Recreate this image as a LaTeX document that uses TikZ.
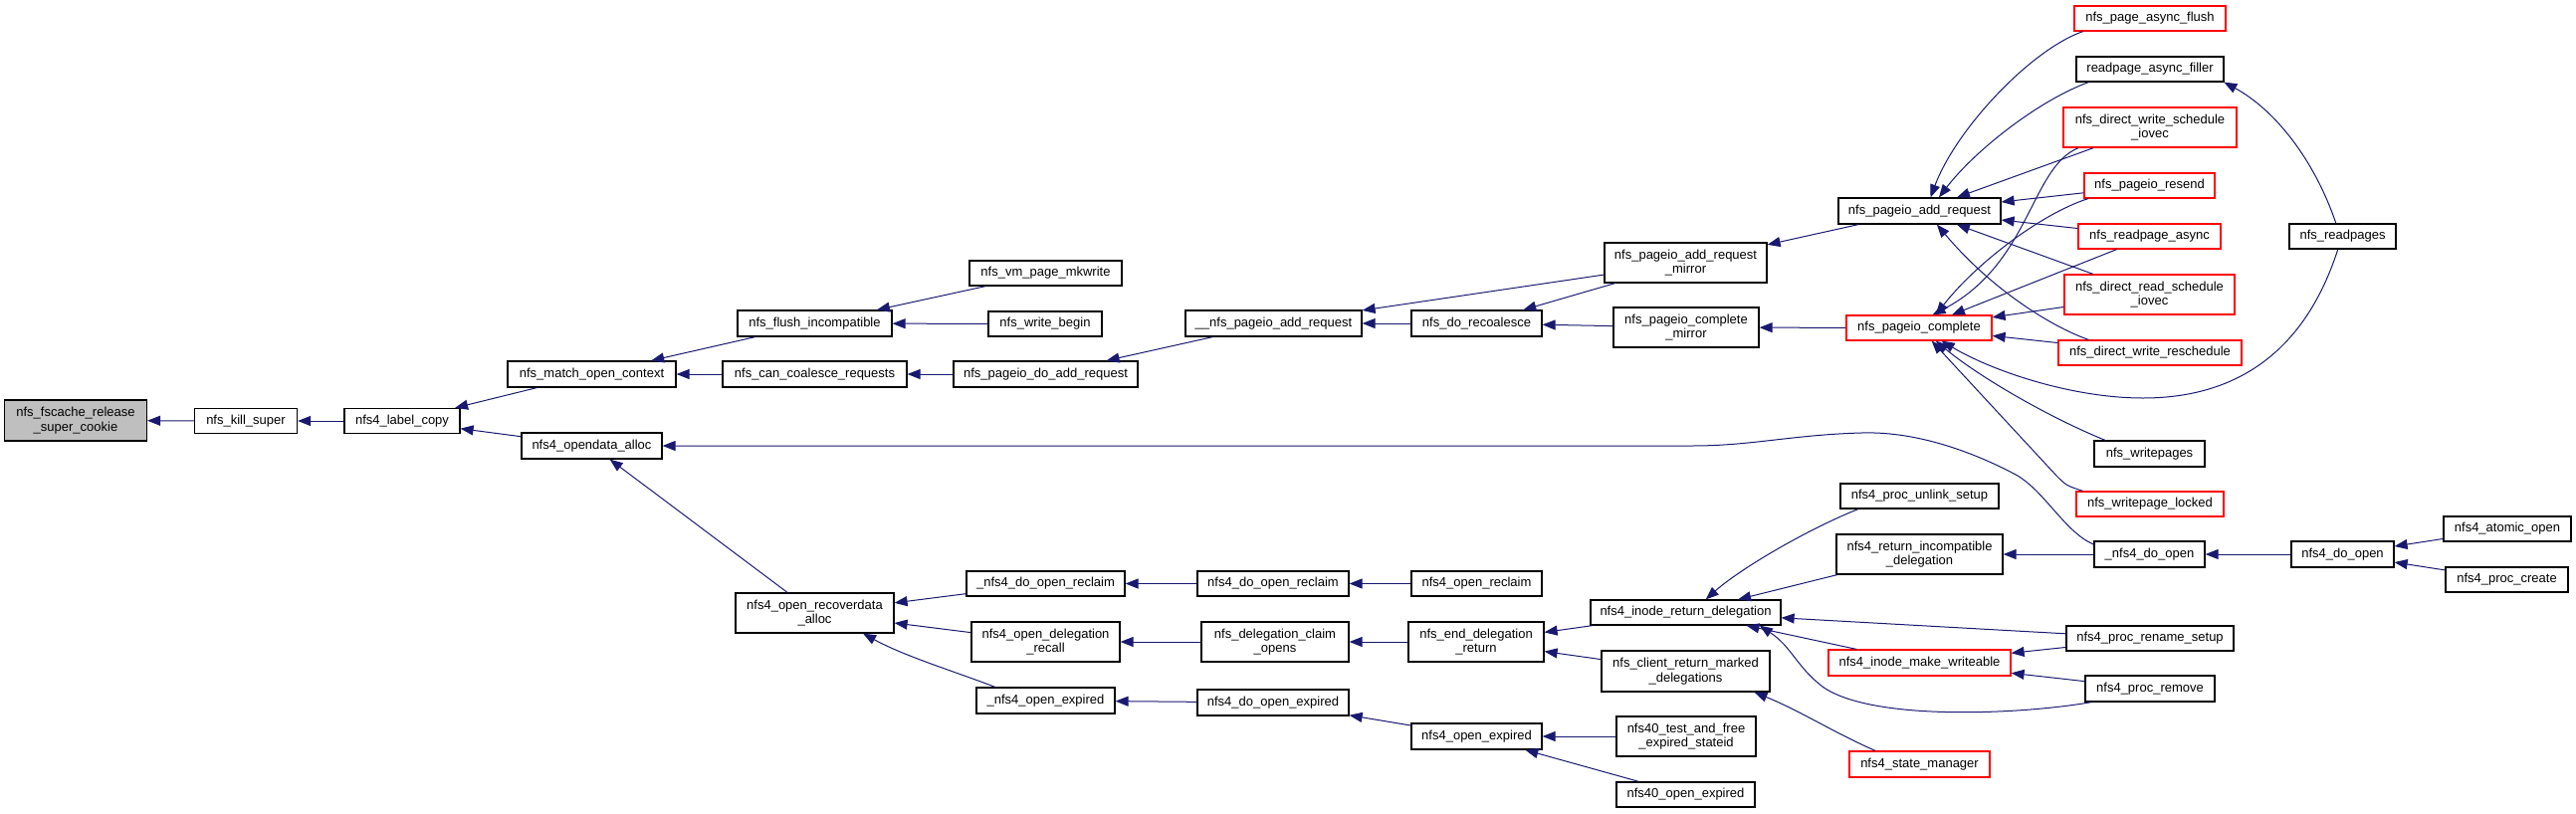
\documentclass[tikz,border=0pt]{standalone}
\usepackage{fontspec}
\newfontfamily\lsans{Liberation Sans}
\usetikzlibrary{arrows.meta}
\definecolor{edgecol}{HTML}{191970}
\definecolor{grayfill}{HTML}{BFBFBF}
\newcommand\nodefont{\lsans\fontsize{13}{14.5}\selectfont}
\tikzset{
  box/.style={draw=black, line width=1.2pt, fill=white, inner sep=0pt, font=\nodefont, align=center},
  rbox/.style={box, draw=red},
  e/.style={draw=edgecol, line width=1pt, -{Triangle[length=13pt,width=10pt]}},
}
\newcommand\bx[6]{\node[#1, minimum width=#4pt, minimum height=#5pt] (#6) at (#2,#3)}
\begin{document}
\begin{tikzpicture}[x=1pt,y=-1pt]
\useasboundingbox (0,0) rectangle (2588,817);
% nodes
\bx{box,fill=grayfill}{76}{422.5}{143}{41}{fsc} {nfs\_fscache\_release\\\_super\_cookie};
\bx{box}{247}{423}{103}{25}{kill} {nfs\_kill\_super};
\bx{box}{404}{423}{116}{25}{label} {nfs4\_label\_copy};
\bx{box}{594.5}{376}{169}{26}{match} {nfs\_match\_open\_context};
\bx{box}{594.5}{448}{141}{26}{opend} {nfs4\_opendata\_alloc};
\bx{box}{818.5}{325}{155}{26}{flush} {nfs\_flush\_incompatible};
\bx{box}{1050.5}{274.5}{153}{25}{mkw} {nfs\_vm\_page\_mkwrite};
\bx{box}{1050}{325.5}{114}{25}{wbeg} {nfs\_write\_begin};
\bx{box}{818.5}{376}{185}{26}{coal} {nfs\_can\_coalesce\_requests};
\bx{box}{1050.5}{376}{185}{26}{doadd} {nfs\_pageio\_do\_add\_request};
\bx{box}{1279.5}{325}{177}{26}{uadd} {\_\_nfs\_pageio\_add\_request};
\bx{box}{1483.5}{325}{131}{26}{recoal} {nfs\_do\_recoalesce};
\bx{box}{1693.5}{264}{163}{40}{mirr} {nfs\_pageio\_add\_request\\\_mirror};
\bx{box}{1694}{329}{146}{40}{cmirr} {nfs\_pageio\_complete\\\_mirror};
\bx{box}{1928.5}{212}{163}{26}{addreq} {nfs\_pageio\_add\_request};
\bx{rbox}{1928}{329.5}{146}{25}{compl} {nfs\_pageio\_complete};
\bx{rbox}{2160}{18.5}{152}{25}{pflush} {nfs\_page\_async\_flush};
\bx{box}{2160}{69.5}{148}{25}{filler} {readpage\_async\_filler};
\bx{rbox}{2160}{128}{174}{40}{dwsch} {nfs\_direct\_write\_schedule\\\_iovec};
\bx{rbox}{2159.5}{186.5}{131}{25}{resend} {nfs\_pageio\_resend};
\bx{rbox}{2159.5}{237.5}{143}{25}{rpasync} {nfs\_readpage\_async};
\bx{rbox}{2159.5}{296}{171}{40}{drsch} {nfs\_direct\_read\_schedule\\\_iovec};
\bx{rbox}{2160}{354.5}{184}{25}{dwres} {nfs\_direct\_write\_reschedule};
\bx{box}{2353.5}{237.5}{107}{25}{rpages} {nfs\_readpages};
\bx{box}{2159.5}{456}{111}{26}{wpages} {nfs\_writepages};
\bx{rbox}{2160}{506.5}{148}{25}{wlocked} {nfs\_writepage\_locked};
\bx{box}{1928.5}{498.5}{159}{25}{unlink} {nfs4\_proc\_unlink\_setup};
\bx{box}{1928.5}{557}{167}{40}{retinc} {nfs4\_return\_incompatible\\\_delegation};
\bx{box}{2159.5}{557}{111}{26}{udopen} {\_nfs4\_do\_open};
\bx{box}{2353.5}{557}{103}{26}{dopen} {nfs4\_do\_open};
\bx{box}{2519}{531.5}{128}{25}{atomic} {nfs4\_atomic\_open};
\bx{box}{2518.5}{582.5}{123}{25}{pcreate} {nfs4\_proc\_create};
\bx{box}{1693.5}{615.5}{191}{25}{inoderet} {nfs4\_inode\_return\_delegation};
\bx{rbox}{1928.5}{666}{183}{26}{mkwr} {nfs4\_inode\_make\_writeable};
\bx{box}{2160}{641.5}{168}{25}{rename} {nfs4\_proc\_rename\_setup};
\bx{box}{2160}{692}{130}{26}{premove} {nfs4\_proc\_remove};
\bx{rbox}{1928.5}{768}{141}{26}{stmgr} {nfs4\_state\_manager};
\bx{box}{1693.5}{674.5}{169}{41}{client} {nfs\_client\_return\_marked\\\_delegations};
\bx{box}{1483}{645}{136}{40}{enddel} {nfs\_end\_delegation\\\_return};
\bx{box}{1483.5}{586.5}{131}{25}{oreclaim} {nfs4\_open\_reclaim};
\bx{box}{1483.5}{740}{131}{26}{oexp} {nfs4\_open\_expired};
\bx{box}{1694}{740}{140}{40}{t40} {nfs40\_test\_and\_free\\\_expired\_stateid};
\bx{box}{1693.5}{798.5}{139}{25}{oexp40} {nfs40\_open\_expired};
\bx{box}{818.5}{616}{159}{40}{recov} {nfs4\_open\_recoverdata\\\_alloc};
\bx{box}{1050.5}{586.5}{159}{25}{udoreclaim} {\_nfs4\_do\_open\_reclaim};
\bx{box}{1050.5}{645}{149}{40}{delrec} {nfs4\_open\_delegation\\\_recall};
\bx{box}{1050.5}{704}{139}{26}{uoexp} {\_nfs4\_open\_expired};
\bx{box}{1279}{586.5}{152}{25}{doreclaim} {nfs4\_do\_open\_reclaim};
\bx{box}{1281}{645}{148}{40}{claim} {nfs\_delegation\_claim\\\_opens};
\bx{box}{1279}{706}{152}{26}{doexp} {nfs4\_do\_open\_expired};
% straight edges
\foreach \a/\b in {kill/fsc, label/kill, match/label, opend/label, flush/match, coal/match,
  mkw/flush, wbeg/flush, doadd/coal, uadd/doadd, recoal/uadd, mirr/uadd, mirr/recoal,
  cmirr/recoal, addreq/mirr, compl/cmirr, dwsch/addreq, resend/addreq, rpasync/addreq,
  drsch/addreq, rpasync/compl, drsch/compl, dwres/compl, recov/opend, udoreclaim/recov,
  delrec/recov, doreclaim/udoreclaim, claim/delrec, doexp/uoexp, oreclaim/doreclaim,
  enddel/claim, oexp/doexp, inoderet/enddel, client/enddel, t40/oexp, oexp40/oexp,
  retinc/inoderet, rename/inoderet, mkwr/inoderet, rename/mkwr, premove/mkwr,
  udopen/retinc, dopen/udopen, atomic/dopen, pcreate/dopen}
  {\draw[e] (\a) -- (\b);}
% curved edges
\draw[e] (pflush.191) .. controls (2040,50) and (1965,130) .. (addreq.51);
\draw[e] (filler.192) .. controls (2050,100) and (1985,150) .. (addreq.35);
\draw[e] (dwres.168) .. controls (2060,328) and (2000,290) .. (addreq.-38);
\draw[e] (dwsch.196) .. controls (2040,168) and (2040,265) .. (compl.44);
\draw[e] (resend.192) .. controls (2050,215) and (1985,265) .. (compl.38);
\draw[e] (rpages.250) .. controls (2320,340) and (2260,400) .. (2153,400)
  .. controls (2080,400) and (2000,372) .. (compl.-30);
\draw[e] (wpages.163) .. controls (2060,420) and (1990,380) .. (compl.-38);
\draw[e] (wlocked.169) .. controls (2076,488) .. (2066,478) -- (compl.-46);
\draw[e] (rpages.117) .. controls (2325,160) and (2285,110) .. (filler.-10);
\draw[e] (uoexp.165) .. controls (960,675) and (910,660) .. (recov.-23);
\draw[e] (stmgr.163) .. controls (1840,735) and (1810,715) .. (client.-17);
\draw[e] (unlink.192) .. controls (1820,530) and (1750,570) .. (inoderet.33);
\draw[e] (premove.193) .. controls (2030,718) and (1880,725) .. (1831,690)
  .. controls (1805,670) and (1800,650) .. (inoderet.-10);
\draw[e] (udopen.170) .. controls (2075,535) and (2055,495) .. (2027,478)
  .. controls (1990,458) and (1930,433) .. (1870,435)
  .. controls (1800,437) and (1760,448) .. (1700,448) -- (opend.east);
\end{tikzpicture}
\end{document}
